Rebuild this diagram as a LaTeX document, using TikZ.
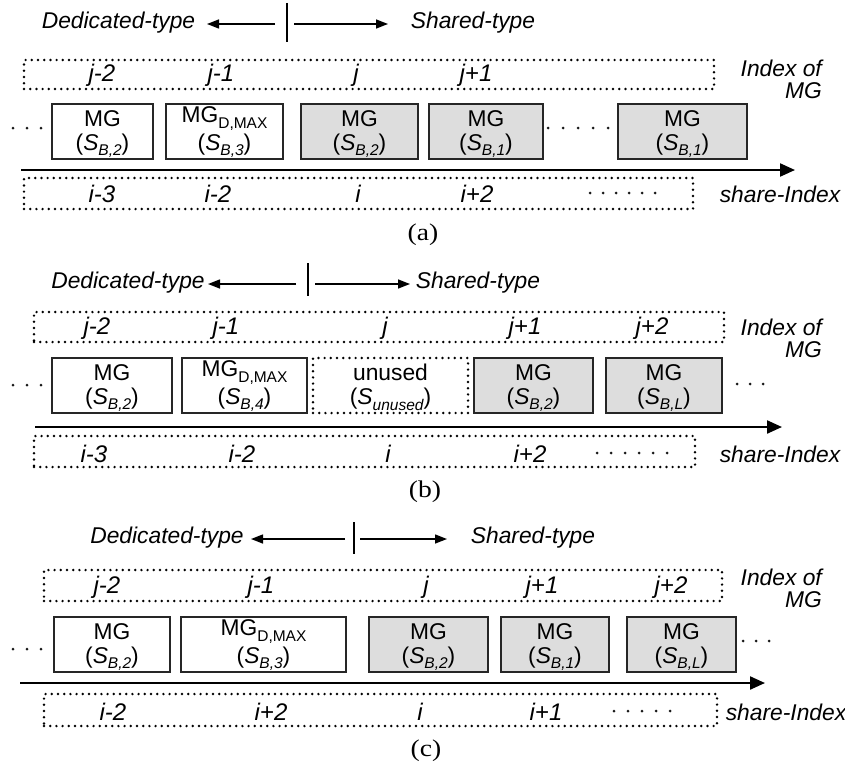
\documentclass[tikz,border=0pt]{standalone}
\usepackage{fontspec}
\setmainfont{Liberation Sans}
\newfontfamily\capfont{Liberation Serif}[FakeStretch=1.15]
\usetikzlibrary{arrows.meta}
\definecolor{boxgray}{RGB}{221,221,221}
\newcommand\subi[1]{\raisebox{-0.45ex}{\fontsize{15.5}{15.5}\selectfont\itshape #1}}
\newcommand\subu[1]{\raisebox{-0.45ex}{\fontsize{15.5}{15.5}\selectfont #1}}
\tikzset{
 txt/.style={inner sep=0pt, font=\fontsize{22.8}{22}\selectfont},
 itxt/.style={inner sep=0pt, font=\fontsize{22.8}{22}\selectfont\itshape},
 idx/.style={inner sep=0pt, font=\fontsize{24}{24}\selectfont\itshape},
 dotbox/.style={draw=black, line width=2.7pt, line cap=round, dash pattern=on 0pt off 6.2pt, inner sep=0pt},
 mgbox/.style={draw=black!85, line width=1.4pt, inner sep=0pt},
 shbox/.style={mgbox, fill=boxgray},
 axis/.style={line width=2.2pt, -{Triangle[length=15pt,width=13pt]}},
 dirarrow/.style={line width=1.4pt, -{Triangle[length=12pt,width=9pt]}},
 divider/.style={line width=1.2pt},
 dotmark/.style={circle, fill=black!90, inner sep=0pt, minimum size=3pt},
 caption/.style={inner sep=0pt, font=\fontsize{24}{24}\selectfont\capfont},
}
% name, x1, x2, ytop, style, top text, bottom text
\newcommand\mgb[7]{%
 \node[#5, minimum width={#3pt-#2pt}, minimum height=55pt] (#1) at ({(#2+#3)/2},{#4+27.5}) {};
 \node[txt] (#1t) at ([yshift=13pt]#1.center) {#6};
 \node[txt] (#1b) at ([yshift=-14pt]#1.center) {#7};
}
\begin{document}
\begin{tikzpicture}[x=1pt,y=-1pt]
\useasboundingbox (0,0) rectangle (845,768);

% ================= (a) =================
\node[itxt] (aDed) at (118.5,23) {Dedicated-type};
\coordinate (aLt) at (275,24); \coordinate (aLh) at (207,24);
\coordinate (aV0) at (287,3); \coordinate (aV1) at (287,42);
\coordinate (aRt) at (294,24); \coordinate (aRh) at (388,24);
\draw[dirarrow] (aLt) -- (aLh);
\draw[divider] (aV0) -- (aV1);
\draw[dirarrow] (aRt) -- (aRh);
\node[itxt] (aSh) at (473,23) {Shared-type};

\node[dotbox, minimum width=690pt, minimum height=29pt] (aTop) at (369,74.5) {};
\node[idx] (aj1) at (102,75) {j-2};
\node[idx] (aj2) at (221,75) {j-1};
\node[idx] (aj3) at (356,75) {j};
\node[idx] (aj4) at (476,75) {j+1};
\node[itxt, align=right, anchor=east] (aIdx) at (822,79) {Index of\\MG};

\foreach \x [count=\k] in {13,27,41} \node[dotmark] (aL\k) at (\x,128) {};
\mgb{a1}{52}{153}{104}{mgbox}{MG}{(\textit{S}\subi{B,2})}
\mgb{a2}{166}{283}{104}{mgbox}{MG\subu{D,MAX}}{(\textit{S}\subi{B,3})}
\mgb{a3}{301}{418}{104}{shbox}{MG}{(\textit{S}\subi{B,2})}
\mgb{a4}{429}{543}{104}{shbox}{MG}{(\textit{S}\subi{B,1})}
\foreach \x [count=\k] in {548,563,578,593,608} \node[dotmark] (aM\k) at (\x,128) {};
\mgb{a5}{618}{747}{104}{shbox}{MG}{(\textit{S}\subi{B,1})}

\coordinate (aAx0) at (21,170); \coordinate (aAx1) at (795,170);
\draw[axis] (aAx0) -- (aAx1);

\node[dotbox, minimum width=669pt, minimum height=31pt] (aBot) at (358.5,193.5) {};
\node[idx] (ai1) at (102,194) {i-3};
\node[idx] (ai2) at (218,194) {i-2};
\node[idx] (ai3) at (358,194) {i};
\node[idx] (ai4) at (477,194) {i+2};
\foreach \x [count=\k] in {590,603,616,629,642,655} \node[dotmark] (aB\k) at (\x,193) {};
\node[itxt] (aShare) at (780,194) {share-Index};
\node[caption] (aCap) at (423,235) {(a)};

% ================= (b) =================
\node[itxt] (bDed) at (128,283) {Dedicated-type};
\coordinate (bLt) at (296,284); \coordinate (bLh) at (208,284);
\coordinate (bV0) at (308,263); \coordinate (bV1) at (308,296);
\coordinate (bRt) at (315,284); \coordinate (bRh) at (410,284);
\draw[dirarrow] (bLt) -- (bLh);
\draw[divider] (bV0) -- (bV1);
\draw[dirarrow] (bRt) -- (bRh);
\node[itxt] (bSh) at (478,283) {Shared-type};

\node[dotbox, minimum width=690pt, minimum height=30pt] (bTop) at (379,327) {};
\node[idx] (bj1) at (97,328) {j-2};
\node[idx] (bj2) at (226,328) {j-1};
\node[idx] (bj3) at (385,328) {j};
\node[idx] (bj4) at (525,328) {j+1};
\node[idx] (bj5) at (652,328) {j+2};
\node[itxt, align=right, anchor=east] (bIdx) at (822,338) {Index of\\MG};

\foreach \x [count=\k] in {13,27,41} \node[dotmark] (bL\k) at (\x,385) {};
\mgb{b1}{52}{172}{358}{mgbox}{MG}{(\textit{S}\subi{B,2})}
\mgb{b2}{182}{307}{358}{mgbox}{MG\subu{D,MAX}}{(\textit{S}\subi{B,4})}
\mgb{b3}{313}{468}{358}{dotbox}{unused}{(\textit{S}\subi{unused})}
\mgb{b4}{474}{593}{358}{shbox}{MG}{(\textit{S}\subi{B,2})}
\mgb{b5}{606}{722}{358}{shbox}{MG}{(\textit{S}\subi{B,L})}
\foreach \x [count=\k] in {737,750,763} \node[dotmark] (bR\k) at (\x,384) {};

\coordinate (bAx0) at (35,427); \coordinate (bAx1) at (782,427);
\draw[axis] (bAx0) -- (bAx1);

\node[dotbox, minimum width=661pt, minimum height=31pt] (bBot) at (364.5,451.5) {};
\node[idx] (bi1) at (94,454) {i-3};
\node[idx] (bi2) at (242,454) {i-2};
\node[idx] (bi3) at (388,454) {i};
\node[idx] (bi4) at (530,454) {i+2};
\foreach \x [count=\k] in {597,611,625,639,653,667} \node[dotmark] (bB\k) at (\x,453) {};
\node[itxt] (bShare) at (780,454) {share-Index};
\node[caption] (bCap) at (425,492) {(b)};

% ================= (c) =================
\node[itxt] (cDed) at (167,538) {Dedicated-type};
\coordinate (cLt) at (345,539); \coordinate (cLh) at (251,539);
\coordinate (cV0) at (354,522); \coordinate (cV1) at (354,554);
\coordinate (cRt) at (360,539); \coordinate (cRh) at (447,539);
\draw[dirarrow] (cLt) -- (cLh);
\draw[divider] (cV0) -- (cV1);
\draw[dirarrow] (cRt) -- (cRh);
\node[itxt] (cSh) at (533,538) {Shared-type};

\node[dotbox, minimum width=678pt, minimum height=31pt] (cTop) at (383,585.5) {};
\node[idx] (cj1) at (107,587) {j-2};
\node[idx] (cj2) at (261,587) {j-1};
\node[idx] (cj3) at (426,587) {j};
\node[idx] (cj4) at (542,587) {j+1};
\node[idx] (cj5) at (671,587) {j+2};
\node[itxt, align=right, anchor=east] (cIdx) at (822,588) {Index of\\MG};

\foreach \x [count=\k] in {13,27,41} \node[dotmark] (cL\k) at (\x,649) {};
\mgb{c1}{54}{170}{617}{mgbox}{MG}{(\textit{S}\subi{B,2})}
\mgb{c2}{181}{346}{617}{mgbox}{MG\subu{D,MAX}}{(\textit{S}\subi{B,3})}
\mgb{c3}{369}{488}{617}{shbox}{MG}{(\textit{S}\subi{B,2})}
\mgb{c4}{501}{609}{617}{shbox}{MG}{(\textit{S}\subi{B,1})}
\mgb{c5}{627}{736}{617}{shbox}{MG}{(\textit{S}\subi{B,L})}
\foreach \x [count=\k] in {743,756,769} \node[dotmark] (cR\k) at (\x,641) {};

\coordinate (cAx0) at (20,683); \coordinate (cAx1) at (765,683);
\draw[axis] (cAx0) -- (cAx1);

\node[dotbox, minimum width=673pt, minimum height=32pt] (cBot) at (380.5,710) {};
\node[idx] (ci1) at (113,712) {i-2};
\node[idx] (ci2) at (271,712) {i+2};
\node[idx] (ci3) at (420,712) {i};
\node[idx] (ci4) at (546,712) {i+1};
\foreach \x [count=\k] in {614,628,642,656,670} \node[dotmark] (cB\k) at (\x,711) {};
\node[itxt] (cShare) at (786,712) {share-Index};
\node[caption] (cCap) at (426,751) {(c)};
\end{tikzpicture}
\end{document}
